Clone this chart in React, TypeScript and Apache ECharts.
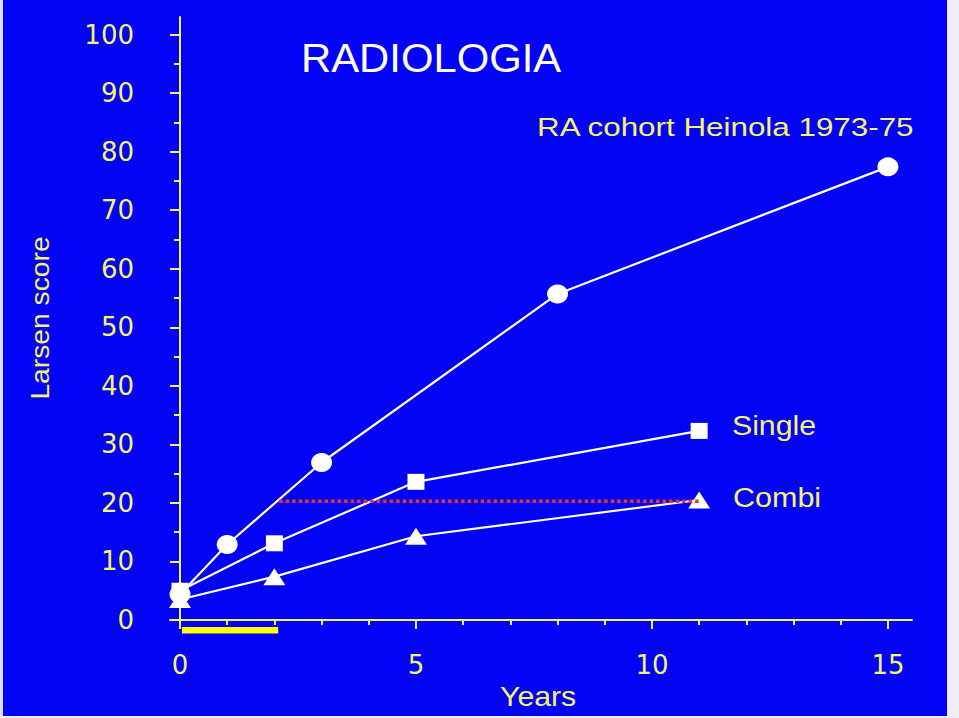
import React, { useEffect, useRef } from "react";
import * as echarts from "echarts";

// ---- data ----
const allData: [number, number][] = [
  [0, 4.4], [1, 12.9], [3, 26.9], [8, 55.7], [15, 77.4],
];
const singleData: [number, number][] = [
  [0, 5.0], [2, 13.1], [5, 23.6], [11, 32.3],
];
const combiData: [number, number][] = [
  [0, 3.5], [2, 7.4], [5, 14.3], [11, 20.5],
];
const referenceLine: [number, number][] = [
  [2.1, 20.3], [11, 20.3],
];
const treatmentPeriod: [number, number] = [0.04, 2.08];
const yMajorTicks = [0, 10, 20, 30, 40, 50, 60, 70, 80, 90, 100];
const yMinorTicks = [5, 15, 25, 35, 45, 55, 65, 75, 85, 95];
const xMajorTicks = [0, 5, 10, 15];
const xMinorTicks = [1, 2, 3, 4, 6, 7, 8, 9, 11, 12, 13, 14];

const BLUE = "#0202f4";
const YEL = "#f4f46a";
const FONT = '"Liberation Sans", Arial, Helvetica, sans-serif';
const NUMFONT = '"DejaVu Sans", "Liberation Sans", sans-serif';

export default function App() {
  const ref = useRef<HTMLDivElement>(null);
  useEffect(() => {
    document.body.style.margin = "0";
    const chart = echarts.init(ref.current!, null, { renderer: "svg" });
    const txt = (
      text: string, x: number, y: number, size: number, sx: number,
      fill: string, rotation = 0, align = "left"
    ) => ({
      type: "text",
      x, y, rotation, scaleX: sx, z: 50,
      style: {
        text, fill, fontSize: size, fontFamily: FONT,
        align, verticalAlign: "middle",
      },
    });
    chart.setOption({
      animation: false,
      backgroundColor: BLUE,
      grid: {
        left: 170, right: 47, top: 17, bottom: 98,
        outerBoundsMode: "none", containLabel: false,
      },
      xAxis: [
        {
          type: "value", min: -0.212, max: 15.51, offset: 6,
          axisLine: { show: true, lineStyle: { color: YEL, width: 2 } },
          axisTick: { show: true, customValues: xMajorTicks, length: 9, lineStyle: { color: YEL, width: 2 } },
          axisLabel: { customValues: xMajorTicks, color: YEL, fontSize: 26, fontFamily: NUMFONT, margin: 26 },
          splitLine: { show: false },
        },
        {
          type: "value", min: -0.212, max: 15.51, offset: 6, position: "bottom",
          axisLine: { show: false },
          axisTick: { show: true, customValues: xMinorTicks, length: 5, lineStyle: { color: YEL, width: 2 } },
          axisLabel: { show: false },
          splitLine: { show: false },
        },
      ],
      yAxis: [
        {
          type: "value", min: 0, max: 103, offset: 7, position: "left",
          axisLine: { show: true, lineStyle: { color: YEL, width: 2 } },
          axisTick: { show: true, customValues: yMajorTicks, length: 10, lineStyle: { color: YEL, width: 2 } },
          axisLabel: { customValues: yMajorTicks, color: YEL, fontSize: 26, fontFamily: NUMFONT, margin: 29 },
          splitLine: { show: false },
        },
        {
          type: "value", min: 0, max: 103, offset: 7, position: "left",
          axisLine: { show: false },
          axisTick: { show: true, customValues: yMinorTicks, length: 6, lineStyle: { color: YEL, width: 2 } },
          axisLabel: { show: false },
          splitLine: { show: false },
        },
      ],
      series: [
        {
          type: "custom",
          name: "Treatment",
          clip: false,
          data: [treatmentPeriod],
          renderItem: (params: any, api: any) => {
            const p0 = api.coord([api.value(0), 0]);
            const p1 = api.coord([api.value(1), 0]);
            return {
              type: "rect",
              shape: { x: p0[0], y: p0[1] + 7, width: p1[0] - p0[0], height: 6.5 },
              style: { fill: "#ffff00" },
            };
          },
          encode: { x: [0, 1] },
          z: 1,
        },
        {
          type: "line", name: "All", data: allData,
          symbol: "circle", symbolSize: [21, 19],
          lineStyle: { color: "#ffffff", width: 2.2 },
          itemStyle: { color: "#ffffff" },
          z: 3,
        },
        {
          type: "line", name: "Single", data: singleData,
          symbol: "rect", symbolSize: [17, 16],
          lineStyle: { color: "#ffffff", width: 2.2 },
          itemStyle: { color: "#ffffff" },
          z: 3,
        },
        {
          type: "line", name: "Combi", data: combiData,
          symbol: "triangle", symbolSize: [22, 17],
          lineStyle: { color: "#ffffff", width: 2.2 },
          itemStyle: { color: "#ffffff" },
          z: 4,
        },
        {
          type: "line", name: "Reference", data: referenceLine,
          symbol: "none",
          lineStyle: { color: "#ee3030", width: 3.5, type: [3.5, 3] },
          z: 5,
        },
      ],
      graphic: [
        { type: "rect", shape: { x: 0, y: 0, width: 3, height: 718 }, style: { fill: "#dcdcf4" }, z: 0 },
        { type: "rect", shape: { x: 947, y: 0, width: 12, height: 718 }, style: { fill: "#eeeefa" }, z: 0 },
        { type: "rect", shape: { x: 0, y: 716, width: 959, height: 2 }, style: { fill: "#eeeefa" }, z: 0 },
        txt("RADIOLOGIA", 301, 58, 41, 1.02, "#ffffff"),
        txt("RA cohort Heinola 1973-75", 537, 127.5, 25.5, 1.23, YEL),
        txt("Single", 732, 425, 28, 1.08, YEL),
        txt("Combi", 733, 497, 28, 1.09, YEL),
        txt("Years", 500, 696.5, 28, 1.08, YEL),
        txt("Larsen score", 41, 318, 25, 1.13, YEL, Math.PI / 2, "center"),
      ],
    });
    return () => chart.dispose();
  }, []);
  return <div ref={ref} style={{ width: 959, height: 718 }} />;
}
